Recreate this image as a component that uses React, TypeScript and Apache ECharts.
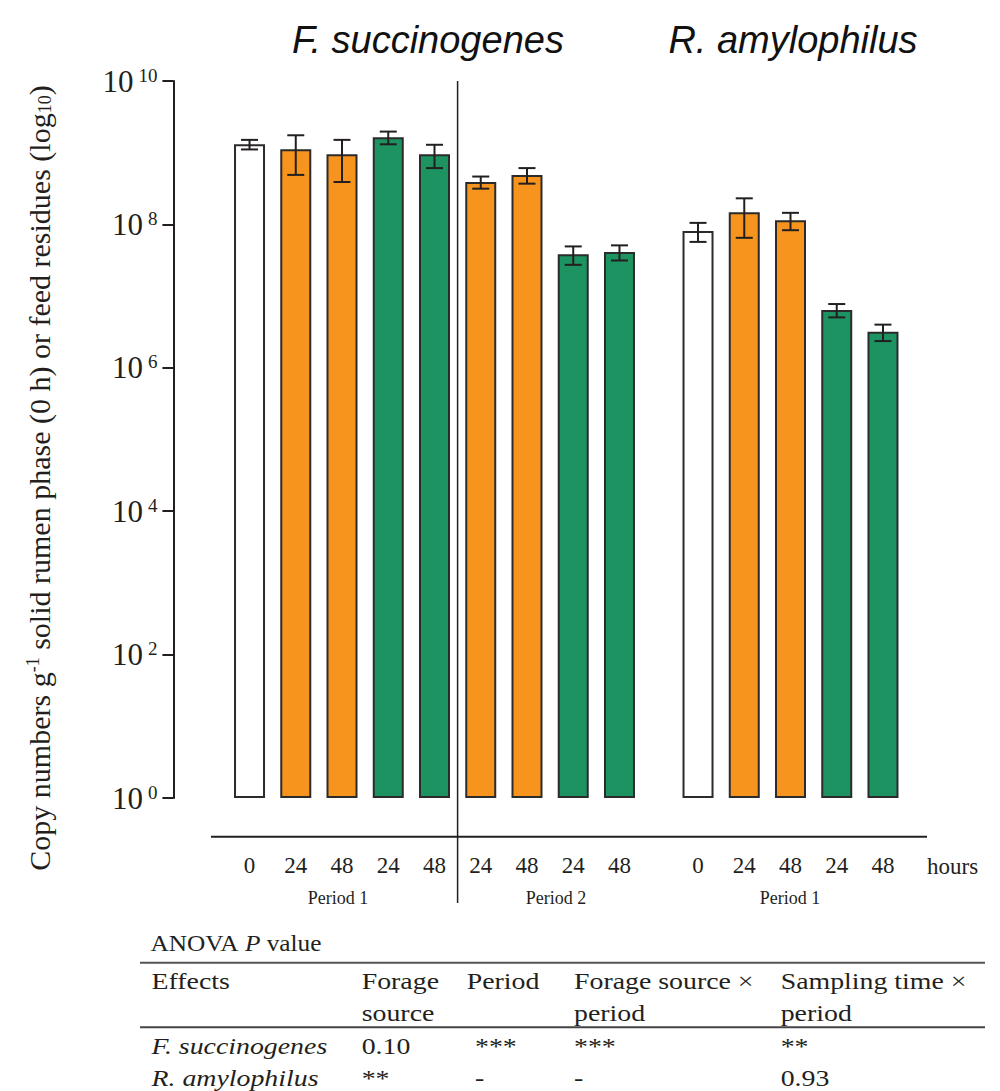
import React, { useEffect, useRef } from 'react';
import * as echarts from 'echarts';

// ---------- data ----------
const fsHours = ['0', '24', '48', '24', '48', '24', '48', '24', '48'];
const fsPeriods = [1, 1, 1, 1, 1, 2, 2, 2, 2];
const fsTreatment = ['initial', 'forageA', 'forageA', 'forageB', 'forageB', 'forageA', 'forageA', 'forageB', 'forageB'];
const fsMean = [1.31e9, 1.12e9, 9.5e8, 1.64e9, 9.5e8, 3.9e8, 4.9e8, 3.83e7, 4.12e7];
const fsSd = [0.2e9, 0.63e9, 0.56e9, 0.33e9, 0.34e9, 0.75e8, 1.2e8, 1.1e7, 0.98e7];

const raHours = ['0', '24', '48', '24', '48'];
const raPeriods = [1, 1, 1, 1, 1];
const raTreatment = ['initial', 'forageA', 'forageA', 'forageB', 'forageB'];
const raMean = [8.1e7, 1.48e8, 1.14e8, 6.4e6, 3.18e6];
const raSd = [2.4e7, 8.3e7, 3.1e7, 1.35e6, 0.82e6];

const speciesTitles = ['F. succinogenes', 'R. amylophilus'];
const periodLabels = ['Period 1', 'Period 2', 'Period 1'];
const hoursLabel = 'hours';
const yAxisTitle = ['Copy numbers g', '-1', ' solid rumen phase (0 h) or feed residues (log', '10', ')'];
const yMin = 1;
const yMax = 1e10;

const tableTitle = ['ANOVA ', 'P', ' value'];
const tableHeaders = [['Effects'], ['Forage', 'source'], ['Period'], ['Forage source \u00d7', 'period'], ['Sampling time \u00d7', 'period']];
const tableRows = [
  ['F. succinogenes', '0.10', '***', '***', '**'],
  ['R. amylophilus', '**', '-', '-', '0.93'],
];

// ---------- styles ----------
const SERIF = '"Liberation Serif", "Times New Roman", serif';
const SANS = '"Liberation Sans", Arial, sans-serif';
const INK = '#231f20';
const COLORS: Record<string, string> = { initial: '#ffffff', forageA: '#f7941d', forageB: '#1c9360' };

const cats = (hours: string[], periods: number[], treat: string[]) =>
  hours.map((h, i) => `P${periods[i]}-${h}h-${treat[i]}-${i}`);

function App() {
  const ref = useRef<HTMLDivElement>(null);
  useEffect(() => {
    document.body.style.margin = '0';
    const chart = echarts.init(ref.current!, null, { renderer: 'svg' });

    const errRender = (params: any, api: any) => {
      const x = api.value(0);
      const lo = api.value(1);
      const hi = api.value(2);
      const pHi = api.coord([x, hi]);
      const pLo = api.coord([x, lo]);
      const w = 8.5;
      const st = { stroke: INK, lineWidth: 2 };
      return {
        type: 'group',
        children: [
          { type: 'line', shape: { x1: pHi[0], y1: pHi[1], x2: pLo[0], y2: pLo[1] }, style: st },
          { type: 'line', shape: { x1: pHi[0] - w, y1: pHi[1], x2: pHi[0] + w, y2: pHi[1] }, style: st },
          { type: 'line', shape: { x1: pLo[0] - w, y1: pLo[1], x2: pLo[0] + w, y2: pLo[1] }, style: st },
        ],
      };
    };

    const xAxisBase = (hours: string[], data: string[], idx: number) => ({
      type: 'category',
      gridIndex: idx,
      data,
      axisLine: { show: false },
      axisTick: { show: false },
      axisLabel: {
        interval: 0,
        margin: 56,
        formatter: (_v: string, i: number) => hours[i],
        fontFamily: SERIF,
        fontSize: 23,
        color: INK,
      },
    });

    const yAxisBase = (idx: number, show: boolean) => ({
      type: 'log',
      logBase: 10,
      gridIndex: idx,
      min: yMin,
      max: yMax,
      interval: 2,
      show,
      offset: 53,
      splitLine: { show: false },
      minorTick: { show: false },
      axisLine: { show: true, lineStyle: { color: INK, width: 2 } },
      axisTick: { show: true, length: 11, lineStyle: { color: INK, width: 2 } },
      axisLabel: {
        margin: 16,
        formatter: (v: number) => `{b|10}{s|${Math.round(Math.log10(v))}}`,
        rich: {
          b: { fontSize: 31, fontFamily: SERIF, color: INK },
          s: { fontSize: 19, fontFamily: SERIF, color: INK, verticalAlign: 'top', padding: [0, 0, 0, 5] },
        },
      },
    });

    const barSeries = (mean: number[], treat: string[], idx: number) => ({
      type: 'bar',
      xAxisIndex: idx,
      yAxisIndex: idx,
      barWidth: 31,
      data: mean.map((m, i) => ({ value: m, itemStyle: { color: COLORS[treat[i]] } })),
      itemStyle: { borderColor: '#2b2b2b', borderWidth: 2 },
      z: 2,
    });

    const errSeries = (mean: number[], sd: number[], idx: number) => ({
      type: 'custom',
      xAxisIndex: idx,
      yAxisIndex: idx,
      renderItem: errRender,
      encode: { x: 0, y: [1, 2] },
      data: mean.map((m, i) => [i, m - sd[i], m + sd[i]]),
      z: 5,
    });

    const tx = (text: string, x: number, y: number, size: number, italic = false, align = 'left', scaleX = 1) => ({
      type: 'text',
      x,
      y,
      scaleX,
      style: {
        text,
        fontFamily: SERIF,
        fontSize: size,
        fontStyle: italic ? 'italic' : 'normal',
        fill: INK,
        align,
        verticalAlign: 'middle',
      },
    });

    // table graphics
    const TS = 1.16;
    const headerX = [151.5, 361.7, 466.7, 574, 780.7];
    const dataX = [151.5, 361.7, 475, 574, 780.7];
    const headerY = [981.5, 1013];
    const rowY = [1046.5, 1078];
    const tableGraphics: any[] = [];
    tableGraphics.push({
      type: 'text',
      x: 150.5,
      y: 943,
      scaleX: 1.1,
      style: {
        text: `{n|${tableTitle[0]}}{i|${tableTitle[1]}}{n|${tableTitle[2]}}`,
        verticalAlign: 'middle',
        rich: {
          n: { fontFamily: SERIF, fontSize: 23, fill: INK, color: INK },
          i: { fontFamily: SERIF, fontSize: 23, fontStyle: 'italic', fill: INK, color: INK },
        },
      },
    });
    tableGraphics.push({ type: 'line', shape: { x1: 140, y1: 962.7, x2: 985, y2: 962.7 }, style: { stroke: '#555', lineWidth: 2 } });
    tableGraphics.push({ type: 'line', shape: { x1: 140, y1: 1027.3, x2: 985, y2: 1027.3 }, style: { stroke: '#444', lineWidth: 2 } });
    tableHeaders.forEach((lines, c) => {
      lines.forEach((t, r) => tableGraphics.push(tx(t, headerX[c], headerY[r], 24, false, 'left', TS)));
    });
    tableRows.forEach((row, r) => {
      row.forEach((t, c) => tableGraphics.push(tx(t, dataX[c], rowY[r], 24, c === 0, 'left', TS)));
    });

    const option: any = {
      animation: false,
      backgroundColor: '#ffffff',
      grid: [
        { left: 226.4, top: 81, width: 416.2, height: 717 },
        { left: 674.9, top: 81, width: 231.2, height: 717 },
      ],
      xAxis: [
        xAxisBase(fsHours, cats(fsHours, fsPeriods, fsTreatment), 0),
        xAxisBase(raHours, cats(raHours, raPeriods, raTreatment), 1),
      ],
      yAxis: [yAxisBase(0, true), yAxisBase(1, false)],
      series: [
        barSeries(fsMean, fsTreatment, 0),
        errSeries(fsMean, fsSd, 0),
        barSeries(raMean, raTreatment, 1),
        errSeries(raMean, raSd, 1),
      ],
      graphic: [
        {
          type: 'text', x: 428, y: 40,
          style: { text: speciesTitles[0], fontFamily: SANS, fontSize: 38, fontStyle: 'italic', fill: '#111', align: 'center', verticalAlign: 'middle' },
        },
        {
          type: 'text', x: 793, y: 40,
          style: { text: speciesTitles[1], fontFamily: SANS, fontSize: 38, fontStyle: 'italic', fill: '#111', align: 'center', verticalAlign: 'middle' },
        },
        {
          type: 'text', x: 39, y: 478, rotation: Math.PI / 2,
          style: {
            text: `{n|${yAxisTitle[0]}}{sup|${yAxisTitle[1]}}{n|${yAxisTitle[2]}}{sub|${yAxisTitle[3]}}{n|${yAxisTitle[4]}}`,
            align: 'center',
            verticalAlign: 'middle',
            rich: {
              n: { fontSize: 30, fontFamily: SERIF, fill: INK, color: INK },
              sup: { fontSize: 18, fontFamily: SERIF, fill: INK, color: INK, verticalAlign: 'top' },
              sub: { fontSize: 18, fontFamily: SERIF, fill: INK, color: INK, verticalAlign: 'bottom' },
            },
          },
        },
        { type: 'line', shape: { x1: 211, y1: 836.7, x2: 927, y2: 836.7 }, style: { stroke: INK, lineWidth: 2 } },
        { type: 'line', shape: { x1: 457.6, y1: 81, x2: 457.6, y2: 903 }, style: { stroke: INK, lineWidth: 1.5 } },
        tx(hoursLabel, 927, 866, 23),
        tx(periodLabels[0], 338, 898, 18, false, 'center'),
        tx(periodLabels[1], 556, 898, 18, false, 'center'),
        tx(periodLabels[2], 790, 898, 18, false, 'center'),
        ...tableGraphics,
      ],
    };
    chart.setOption(option);
    return () => chart.dispose();
  }, []);
  return <div ref={ref} style={{ width: 1000, height: 1091 }} />;
}

export default App;
